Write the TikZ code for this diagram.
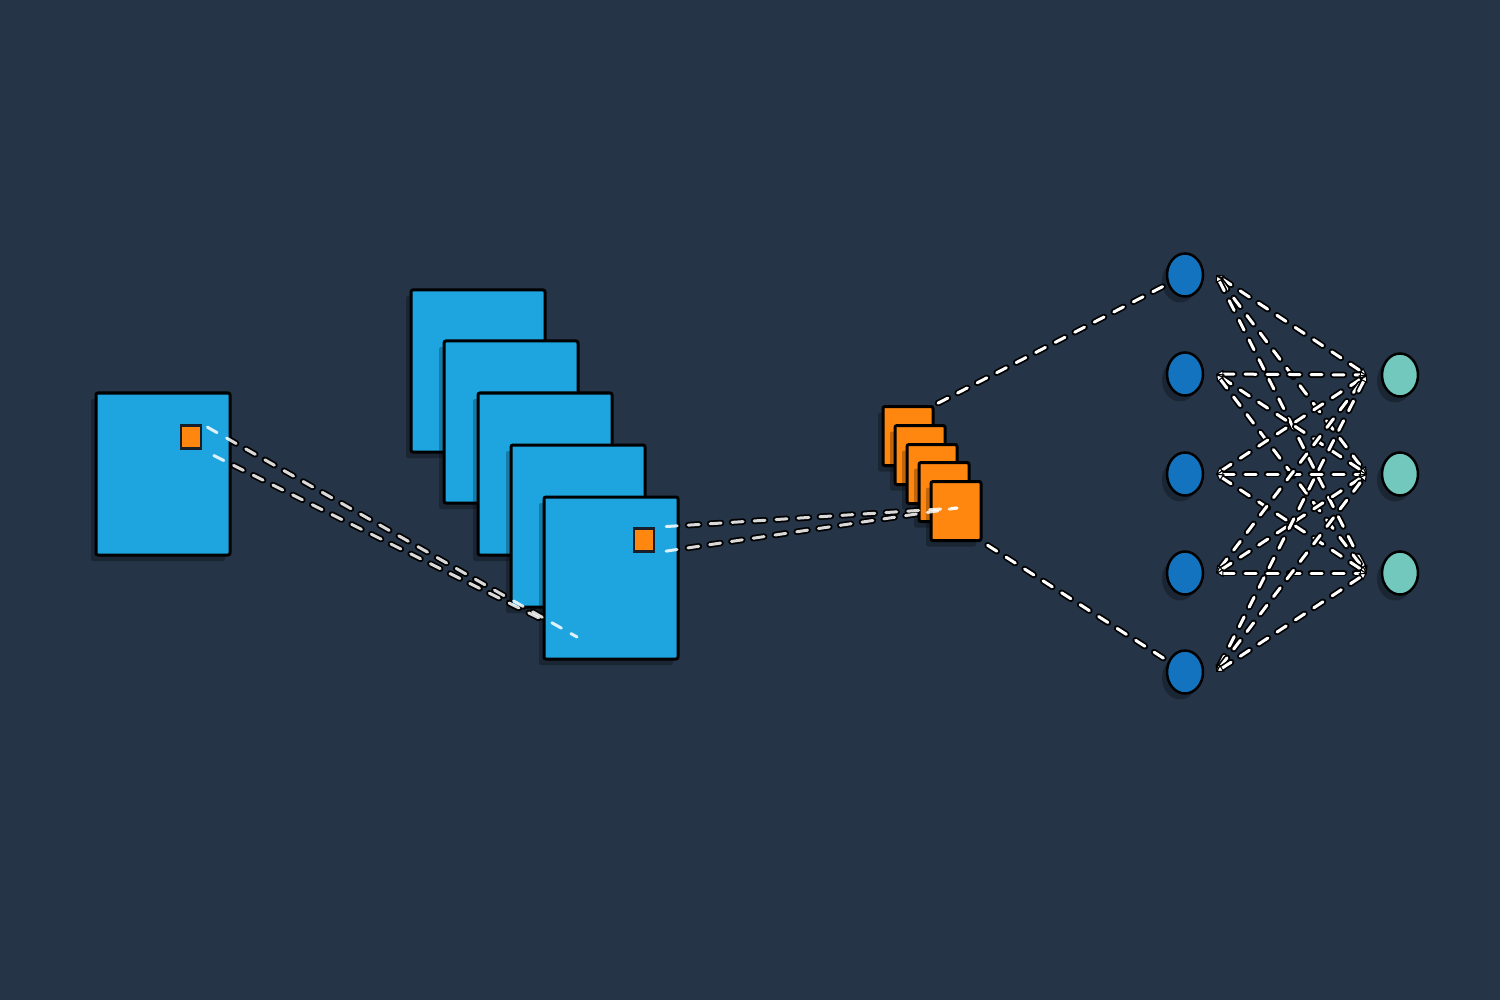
\documentclass[tikz,border=0pt]{standalone}
\usetikzlibrary{shapes.geometric,arrows.meta,shadows}
\definecolor{bgdark}{HTML}{253446}
\definecolor{mapblue}{HTML}{1EA5E0}
\definecolor{patchorange}{HTML}{FF870F}
\definecolor{unitblue}{HTML}{1473BE}
\definecolor{unitteal}{HTML}{73C8BE}
\pgfdeclarelayer{back}
\pgfdeclarelayer{wires}
\pgfsetlayers{back,wires,main}
\begin{document}
\begin{tikzpicture}[x=1pt,y=-1pt]
  \tikzstyle{soft}=[drop shadow={shadow xshift=-5pt, shadow yshift=-6pt, opacity=0.25, fill=black}]
  \tikzstyle{map}=[rectangle, draw=black, line width=3pt, fill=mapblue, rounded corners=2pt, minimum width=134pt, minimum height=162pt, inner sep=0pt, soft]
  \tikzstyle{patch}=[rectangle, draw=bgdark!60!black, line width=2.5pt, fill=patchorange, minimum width=20pt, minimum height=23pt, inner sep=0pt]
  \tikzstyle{pool}=[rectangle, draw=black, line width=3pt, fill=patchorange, rounded corners=2pt, minimum width=50pt, minimum height=59pt, inner sep=0pt, soft]
  \tikzstyle{unit}=[ellipse, draw=black, line width=2.5pt, minimum width=36pt, minimum height=43pt, inner sep=0pt, fill=unitblue, soft]
  \tikzstyle{outunit}=[fill=unitteal]
  \tikzstyle{wire}=[white, line width=3pt, line cap=round, dash pattern=on 11pt off 11pt, preaction={draw=black, line width=6.5pt, line cap=round, dash pattern=on 11pt off 11pt}]
  \tikzstyle{wireback}=[black, line width=6.5pt, line cap=round, dash pattern=on 11pt off 11pt]
  \tikzstyle{wirefront}=[white, line width=3pt, line cap=round, dash pattern=on 11pt off 11pt, opacity=0.85]
  \tikzstyle{tips}=[{Triangle[length=7pt,width=8pt,fill=white,color=black,line width=1pt]}-{Triangle[length=7pt,width=8pt,fill=white,color=black,line width=1pt]}]

  \begin{pgfonlayer}{back}
    \fill[bgdark] (0,0) rectangle (1500,1000);
  \end{pgfonlayer}

  % input image
  \node[map]   (in)  at (163, 474) {};
  \node[patch] (pin) at (191, 437) {};

  % feature maps
  \node[map] (f1) at (478, 371) {};
  \node[map] (f2) at (511, 422) {};
  \node[map] (f3) at (545, 474) {};
  \node[map] (f4) at (578, 526) {};
  \node[map] (f5) at (611, 578) {};
  \node[patch] (pf) at (644, 540) {};

  % pooled maps
  \node[pool] (q1) at (908, 436) {};
  \node[pool] (q2) at (920, 455) {};
  \node[pool] (q3) at (932, 474) {};
  \node[pool] (q4) at (944, 492) {};
  \node[pool] (q5) at (956, 511) {};

  % dense layers
  \node[unit] (h1) at (1185, 275) {};
  \node[unit] (h2) at (1185, 374) {};
  \node[unit] (h3) at (1185, 474) {};
  \node[unit] (h4) at (1185, 573) {};
  \node[unit] (h5) at (1185, 672) {};
  \node[unit, outunit] (y1) at (1400, 375) {};
  \node[unit, outunit] (y2) at (1400, 474) {};
  \node[unit, outunit] (y3) at (1400, 573) {};

  \coordinate (ta) at (577, 637);
  \coordinate (tb) at (545, 621);
  \coordinate (tq) at (957, 508);

  \begin{pgfonlayer}{wires}
    \draw[wireback, shorten <=6pt]  (pin.north east) -- (ta);
    \draw[wireback, shorten <=13pt] (pin.south east) -- (tb);
    \draw[wireback, shorten <=11pt] (pf.north east) -- (tq);
    \draw[wireback, shorten <=11pt] (pf.south east) -- (tq);
  \end{pgfonlayer}
  \draw[wirefront, shorten <=6pt]  (pin.north east) -- (ta);
  \draw[wirefront, shorten <=13pt] (pin.south east) -- (tb);
  \draw[wirefront, shorten <=11pt] (pf.north east) -- (tq);
  \draw[wirefront, shorten <=11pt] (pf.south east) -- (tq);

  \draw[wire, shorten <=4pt, shorten >=2pt] (q1.north east) -- (h1);
  \draw[wire, shorten <=6pt, shorten >=2pt] (q5.south east) -- (h5);

  \draw[wire, tips] ([xshift=12pt]h1.east) -- ([xshift=-14pt]y1.west);
  \draw[wire, tips] ([xshift=12pt]h1.east) -- ([xshift=-14pt]y2.west);
  \draw[wire, tips] ([xshift=12pt]h1.east) -- ([xshift=-14pt]y3.west);
  \draw[wire, tips] ([xshift=12pt]h2.east) -- ([xshift=-14pt]y1.west);
  \draw[wire, tips] ([xshift=12pt]h2.east) -- ([xshift=-14pt]y2.west);
  \draw[wire, tips] ([xshift=12pt]h2.east) -- ([xshift=-14pt]y3.west);
  \draw[wire, tips] ([xshift=12pt]h3.east) -- ([xshift=-14pt]y1.west);
  \draw[wire, tips] ([xshift=12pt]h3.east) -- ([xshift=-14pt]y2.west);
  \draw[wire, tips] ([xshift=12pt]h3.east) -- ([xshift=-14pt]y3.west);
  \draw[wire, tips] ([xshift=12pt]h4.east) -- ([xshift=-14pt]y1.west);
  \draw[wire, tips] ([xshift=12pt]h4.east) -- ([xshift=-14pt]y2.west);
  \draw[wire, tips] ([xshift=12pt]h4.east) -- ([xshift=-14pt]y3.west);
  \draw[wire, tips] ([xshift=12pt]h5.east) -- ([xshift=-14pt]y1.west);
  \draw[wire, tips] ([xshift=12pt]h5.east) -- ([xshift=-14pt]y2.west);
  \draw[wire, tips] ([xshift=12pt]h5.east) -- ([xshift=-14pt]y3.west);
\end{tikzpicture}
\end{document}
